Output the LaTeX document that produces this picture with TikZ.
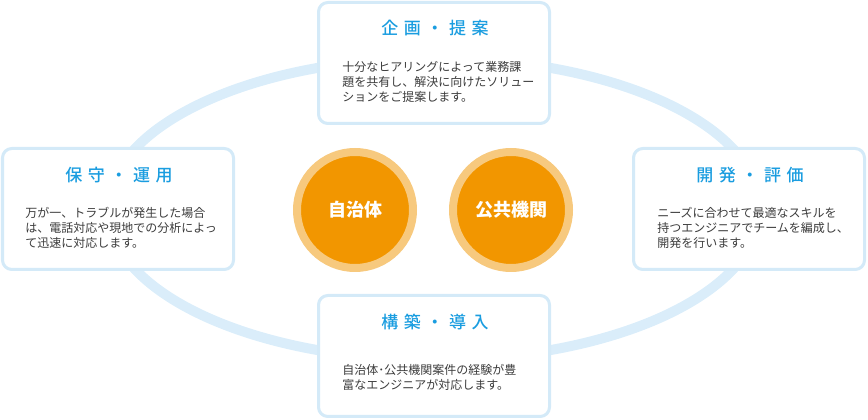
\documentclass[tikz,border=0pt]{standalone}
\usepackage{fontspec,xcolor}
\setmainfont{Noto Sans CJK JP}
\newfontfamily\titlefont[LetterSpace=33]{Noto Sans CJK JP Medium}
\definecolor{ringblue}{HTML}{DAEDFA}
\definecolor{cardline}{HTML}{D4EAF8}
\definecolor{titleblue}{HTML}{1A9DE0}
\definecolor{bodygray}{HTML}{3C3C3C}
\definecolor{huborange}{HTML}{F29600}
\definecolor{hubring}{HTML}{F7C97E}
\tikzset{
	card/.style={draw=cardline, line width=2.25pt, fill=white, rounded corners=7pt, minimum width=173.25pt, minimum height=90.75pt},
	cardtitle/.style={text=titleblue, inner sep=0pt, font=\titlefont\fontsize{12.75}{15}\selectfont},
	cardtext/.style={anchor=north west, align=left, inner sep=0pt, text=bodygray, font=\fontsize{9}{11.4}\selectfont},
	hub/.style={circle, fill=huborange, draw=hubring, line width=6pt, minimum size=87pt, inner sep=0pt, text=white, font=\bfseries\fontsize{13.5}{16}\selectfont}
}

\begin{document}
\begin{tikzpicture}[x=0.75pt, y=-0.75pt]
			\useasboundingbox (0,0) rectangle (868,420);
			\draw[ringblue, line width=7.5pt] (434,209) ellipse (326 and 151);
			% four cards round the ring
			\node[card] (plan) at (434,63) {};
			\node[card] (ops) at (118,209) {};
			\node[card] (dev) at (749,209) {};
			\node[card] (build) at (434,356) {};
			\node[cardtitle] (plantitle) at (435,28) {企画・提案};
			\node[cardtitle] (opstitle) at (119,175) {保守・運用};
			\node[cardtitle] (devtitle) at (750,175) {開発・評価};
			\node[cardtitle] (buildtitle) at (435,322) {構築・導入};
			\node[cardtext] (plantext) at (342,61) {十分なヒアリングによって業務課\\題を共有し、解決に向けたソリュー\\ションをご提案します。};
			\node[cardtext] (opstext) at (25,207) {万が一、トラブルが発生した場合\\は、電話対応や現地での分析によっ\\て迅速に対応します。};
			\node[cardtext] (devtext) at (657,207) {ニーズに合わせて最適なスキルを\\持つエンジニアでチームを編成し、\\開発を行います。};
			\node[cardtext] (buildtext) at (342,364) {自治体･公共機関案件の経験が豊\\富なエンジニアが対応します。};
			% clients in the middle
			\node[hub] (gov) at (355,210) {自治体};
			\node[hub] (pub) at (511,210) {公共機関};
		\end{tikzpicture}
\end{document}
